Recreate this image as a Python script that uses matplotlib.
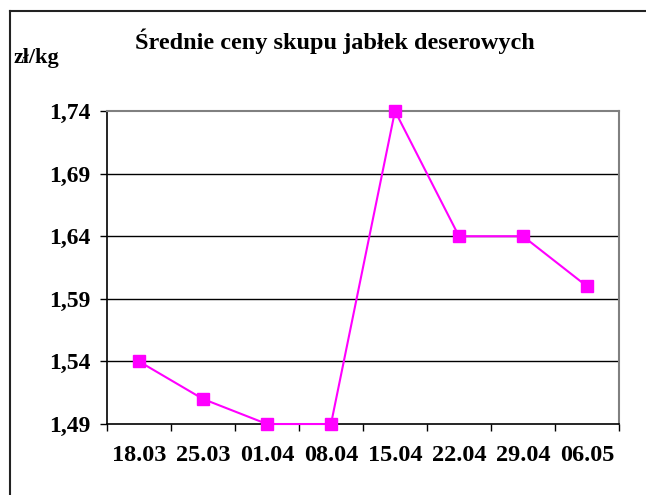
import matplotlib.pyplot as plt
from matplotlib.lines import Line2D
import numpy as np

# dane
dates = ['18.03', '25.03', '01.04', '08.04', '15.04', '22.04', '29.04', '06.05']
prices = [1.54, 1.51, 1.49, 1.49, 1.74, 1.64, 1.64, 1.60]
yticks = [1.49, 1.54, 1.59, 1.64, 1.69, 1.74]
ylabels = ['1,49', '1,54', '1,59', '1,64', '1,69', '1,74']

plt.rcParams['font.family'] = ['Liberation Serif', 'DejaVu Serif']
plt.rcParams['font.weight'] = 'bold'

fig = plt.figure(figsize=(6.46, 4.95), dpi=100)
ax = fig.add_axes([0.1656, 0.1434, 0.7926, 0.6323])

x = np.arange(len(dates))
ax.plot(x, prices, color='#FF00FF', lw=1.5, marker='s', markersize=8.5,
        markeredgecolor='#FF00FF', zorder=5, clip_on=False)

ax.set_xlim(-0.5, len(dates) - 0.5)
ax.set_ylim(yticks[0], yticks[-1])

# siatka tylko wewnatrz
ax.hlines(yticks[1:-1], 0, 1, transform=ax.get_yaxis_transform(), color='black', lw=1, zorder=1)

ax.set_yticks(yticks)
ax.set_yticklabels(ylabels, fontsize=17, fontweight='bold')
ax.set_xticks(np.arange(len(dates) + 1) - 0.5)
ax.set_xticklabels([])
ax.set_xticks(x, minor=True)
ax.set_xticklabels(dates, minor=True, fontsize=17.5, fontweight='bold')
ax.tick_params(axis='x', which='major', direction='out', length=5, width=1, color='black')
ax.tick_params(axis='x', which='minor', length=0, pad=15)
ax.tick_params(axis='y', direction='out', length=5, width=1, pad=7)

for s in ['left', 'bottom']:
    ax.spines[s].set_color('black')
    ax.spines[s].set_linewidth(1.2)
for s in ['top', 'right']:
    ax.spines[s].set_color('#808080')
    ax.spines[s].set_linewidth(1.5)

fig.text(0.519, 0.917, 'Średnie ceny skupu jabłek deserowych', ha='center', va='center',
         fontsize=17.5, fontweight='bold')
fig.text(0.021, 0.883, 'zł/kg', ha='left', va='center', fontsize=16, fontweight='bold')

# ramka wykresu
fx = 10 / 646
fy = 1 - 11 / 495
fig.add_artist(Line2D([fx, fx], [0, fy], color='#222222', lw=1.5, transform=fig.transFigure))
fig.add_artist(Line2D([fx, 1], [fy, fy], color='#222222', lw=1.5, transform=fig.transFigure))

fig.savefig('out.png', dpi=100)
